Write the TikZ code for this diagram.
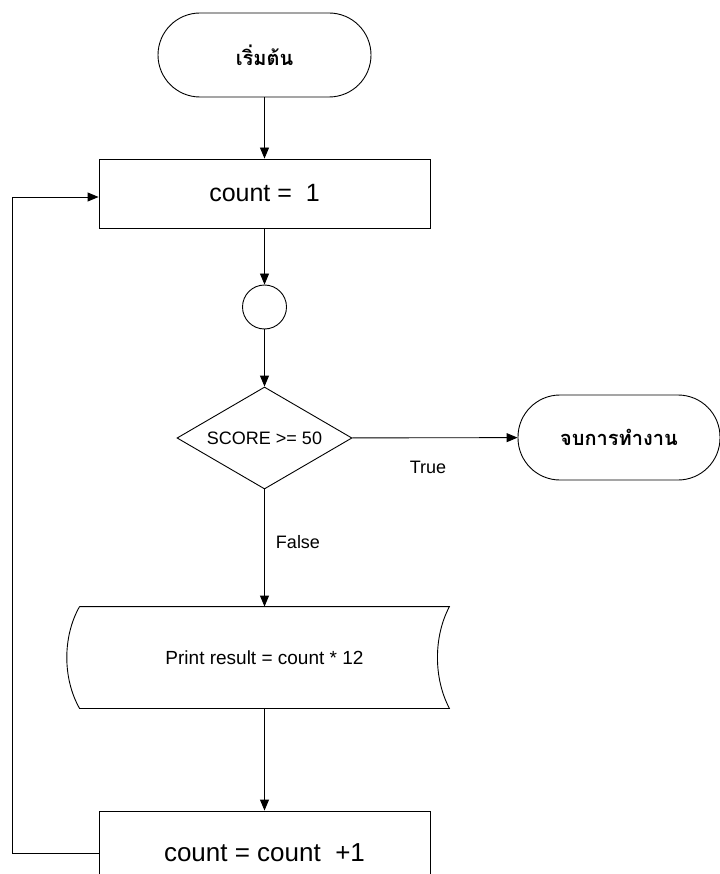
\documentclass[tikz,border=0pt]{standalone}
\usepackage{fontspec}
\setmainfont{Liberation Sans}
\newfontfamily\thaifont[Script=Thai]{Loma}
\usetikzlibrary{shapes.geometric,arrows.meta}

\tikzset{
  termbox/.style={draw, rectangle, rounded corners=42pt, minimum width=213pt, minimum height=84pt,
    font=\thaifont\bfseries\fontsize{20}{24}\selectfont},
  procbox/.style={draw, rectangle, minimum width=331pt, minimum height=69pt,
    font=\fontsize{25}{30}\selectfont},
  decbox/.style={draw, diamond, inner sep=0pt, shape aspect=1.7, minimum width=175pt, minimum height=102pt,
    font=\fontsize{18}{22}\selectfont},
  joint/.style={draw, circle, inner sep=0pt, minimum size=44pt},
  outbox/.style={rectangle, minimum width=369pt, minimum height=101pt, font=\fontsize{19}{22}\selectfont},
  lbl/.style={font=\fontsize{18}{21}\selectfont}
}

\begin{document}
\begin{tikzpicture}[x=1pt, y=-1pt, line width=0.9pt, >={Triangle[length=11pt,width=9pt]}]
  \useasboundingbox (0,0) rectangle (719,874);
  \node[termbox] (start) at (264.5,55) {เริ่มต้น};
  \node[procbox] (init) at (264.5,193.5) {count =\ \ 1};
  \node[joint] (join) at (264.5,307) {};
  \node[decbox] (test) at (264.5,438) {SCORE >= 50};
  \node[termbox, minimum width=202pt, minimum height=85pt] (stop) at (619,437.5) {จบการทำงาน};
  \node[outbox] (show) at (264.5,657.5) {Print result = count * 12};
  \node[procbox, minimum height=84pt, font=\fontsize{26}{30}\selectfont] (step) at (264.5,853) {count = count\ \ +1};
  % stored data outline
  \draw[xshift=6pt] (show.north west) -- (show.north east)
    .. controls +(-16,30) and +(-16,-30) .. (show.south east) -- (show.south west)
    .. controls +(-17,-30) and +(-17,30) .. (show.north west);
  % flow
  \draw[->] (start) -- (init);
  \draw[->] (init) -- (join);
  \draw[->] (join) -- (test);
  \draw[->] (test) -- (stop);
  \draw[->] (test) -- (show);
  \draw[->] (show) -- (step);
  \node[lbl] (yes) at (428,467) {True};
  \node[lbl] (no) at (298,542) {False};
  % loop back
  \coordinate (lpb) at (12,853);
  \coordinate (lpt) at (12,197);
  \draw[->] (step.west |- lpb) -- (lpb) -- (lpt) -- (init.west |- lpt);
\end{tikzpicture}
\end{document}
